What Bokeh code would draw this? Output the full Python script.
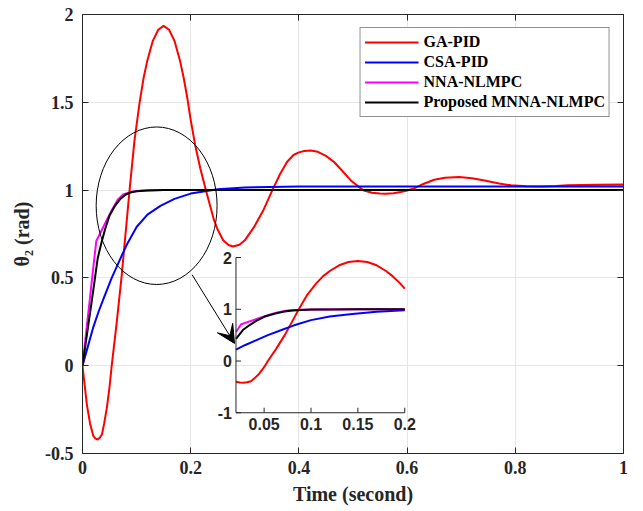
from bokeh.plotting import figure
from bokeh.models import Range1d, LinearAxis, Arrow, VeeHead, FixedTicker
from bokeh.embed import file_html
from bokeh.resources import INLINE
from bokeh.core.properties import value

# ---------------- data ----------------
t_ga = [0, 0.004, 0.008, 0.014, 0.02, 0.024, 0.028, 0.032, 0.036, 0.04, 0.045, 0.05, 0.054,
        0.063, 0.072, 0.081, 0.087, 0.096, 0.1056, 0.113, 0.12, 0.13, 0.14, 0.15, 0.16,
        0.17, 0.18, 0.187, 0.194, 0.2, 0.208, 0.218, 0.228, 0.243, 0.25, 0.26, 0.27, 0.278,
        0.29, 0.30, 0.317, 0.335, 0.351, 0.365, 0.378, 0.39, 0.40, 0.41, 0.422, 0.435,
        0.45, 0.465, 0.48, 0.496, 0.51, 0.52, 0.535, 0.55, 0.56, 0.575, 0.588, 0.6, 0.613,
        0.63, 0.65, 0.67, 0.696, 0.72, 0.743, 0.77, 0.792, 0.82, 0.848, 0.875, 0.897,
        0.95, 1.0]
y_ga = [0, -0.11, -0.22, -0.33, -0.40, -0.415, -0.42, -0.41, -0.39, -0.33, -0.24, -0.12, 0.0,
        0.24, 0.5, 0.8, 1.0, 1.28, 1.5, 1.64, 1.74, 1.85, 1.913, 1.935, 1.913,
        1.85, 1.74, 1.64, 1.52, 1.40, 1.26, 1.12, 1.0, 0.83, 0.774, 0.714, 0.687, 0.679,
        0.689, 0.714, 0.789, 0.89, 1.0, 1.09, 1.16, 1.20, 1.215, 1.223, 1.226, 1.218,
        1.195, 1.16, 1.11, 1.055, 1.02, 0.998, 0.985, 0.98, 0.979, 0.982, 0.989, 0.998, 1.01,
        1.035, 1.059, 1.07, 1.074, 1.068, 1.055, 1.038, 1.027, 1.022, 1.021, 1.023, 1.027,
        1.03, 1.032]

t_csa = [0, 0.01, 0.02, 0.03, 0.04, 0.054, 0.07, 0.082, 0.1, 0.12, 0.144, 0.17, 0.2,
         0.25, 0.3, 0.4, 0.5, 1.0]
y_csa = [0, 0.11, 0.22, 0.31, 0.39, 0.5, 0.61, 0.69, 0.79, 0.86, 0.91, 0.95, 0.98,
         1.005, 1.015, 1.02, 1.02, 1.02]

t_nna = [0, 0.02, 0.0255, 0.054, 0.065, 0.075, 0.09, 0.11, 0.15, 0.2, 0.3, 1.0]
y_nna = [0, 0.56, 0.71, 0.885, 0.945, 0.975, 0.99, 0.998, 1.0, 1.0, 1.0, 1.0]

t_mnna = [0, 0.02, 0.028, 0.035, 0.042, 0.05, 0.06, 0.07, 0.08, 0.09, 0.1, 0.12, 0.15,
          0.2, 0.3, 1.0]
y_mnna = [0, 0.43, 0.61, 0.70, 0.78, 0.855, 0.91, 0.95, 0.975, 0.988, 0.994, 0.998, 1.0,
          1.0, 1.0, 1.0]

series_names = ["GA-PID", "CSA-PID", "NNA-NLMPC", "Proposed MNNA-NLMPC"]
series_colors = ["#ff0000", "#0000ff", "#ff00ff", "#000000"]

x_ticks = [0, 0.2, 0.4, 0.6, 0.8, 1]
y_ticks = [-0.5, 0, 0.5, 1, 1.5, 2]
x_tick_labels = {0: "0", 0.2: "0.2", 0.4: "0.4", 0.6: "0.6", 0.8: "0.8", 1: "1"}
y_tick_labels = {-0.5: "-0.5", 0: "0", 0.5: "0.5", 1: "1", 1.5: "1.5", 2: "2"}

inset_x_range = (0.02, 0.2)
inset_y_range = (-1, 2)
inset_x_ticks = [0.05, 0.1, 0.15, 0.2]
inset_x_labels = ["0.05", "0.1", "0.15", "0.2"]
inset_y_ticks = [-1, 0, 1, 2]
inset_y_labels = ["-1", "0", "1", "2"]

# ---------------- figure ----------------
AX = "#262626"
SERIF = "Liberation Serif"
SANS = "Liberation Sans"

p = figure(frame_width=541, frame_height=439, output_backend="svg", toolbar_location=None,
           x_range=Range1d(0, 1), y_range=Range1d(-0.5, 2),
           min_border_left=82, min_border_top=14, min_border_right=12, min_border_bottom=50)
p.background_fill_color = "white"
p.border_fill_color = "white"
p.outline_line_color = AX
p.outline_line_width = 1

for ax in (p.xaxis[0], p.yaxis[0]):
    ax.axis_line_color = AX
    ax.major_tick_line_color = AX
    ax.major_tick_in = 6
    ax.major_tick_out = 0
    ax.minor_tick_line_color = None
    ax.major_label_text_font = SERIF
    ax.major_label_text_font_style = "bold"
    ax.major_label_text_font_size = "18px"
    ax.major_label_text_color = AX
    ax.axis_label_text_font = SERIF
    ax.axis_label_text_font_style = "bold"
    ax.axis_label_text_font_size = "20px"
    ax.axis_label_text_color = AX
p.xaxis.ticker = FixedTicker(ticks=x_ticks)
p.yaxis.ticker = FixedTicker(ticks=y_ticks)
p.xaxis.major_label_overrides = x_tick_labels
p.yaxis.major_label_overrides = y_tick_labels
p.xaxis.axis_label = "Time (second)"
p.yaxis.axis_label = "θ₂ (rad)"
p.xaxis.major_label_standoff = 7
p.yaxis.major_label_standoff = 9
p.xaxis.axis_label_standoff = 6
p.yaxis.axis_label_standoff = 9

for loc, ticks in (("right", y_ticks), ("above", x_ticks)):
    ax = LinearAxis(ticker=FixedTicker(ticks=ticks), major_tick_in=6, major_tick_out=0,
                    minor_tick_line_color=None, axis_line_color=AX, major_tick_line_color=AX,
                    major_label_text_font_size="0px", major_label_standoff=0,
                    major_label_overrides={v: "" for v in ticks})
    p.add_layout(ax, loc)

p.xgrid.ticker = FixedTicker(ticks=x_ticks)
p.ygrid.ticker = FixedTicker(ticks=y_ticks)
p.grid.grid_line_color = "#e6e6e6"
p.grid.grid_line_width = 1

series = [(t_ga, y_ga), (t_csa, y_csa), (t_nna, y_nna), (t_mnna, y_mnna)]
for (tx, ty), name, col in zip(series, series_names, series_colors):
    p.line(tx, ty, line_color=col, line_width=2, legend_label=name)

# ellipse + arrow annotation
p.ellipse(x=[0.137], y=[0.911], width=[0.2235], height=[0.897],
          fill_color=None, line_color="black", line_width=1)
p.add_layout(Arrow(end=VeeHead(size=18, fill_color="black", line_color="black", line_width=1),
                   x_start=0.2026, y_start=0.518, x_end=0.281, y_end=0.127,
                   line_color="black", line_width=1))

# ---------------- inset ----------------
ins = p.subplot(x_source=Range1d(*inset_x_range), y_source=Range1d(*inset_y_range),
                x_target=Range1d(0.2837, 0.5957), y_target=Range1d(-0.268, 0.616))

for (tx, ty), col in zip(series, series_colors):
    xs = [a for a in tx if inset_x_range[0] <= a <= inset_x_range[1]]
    ys = [b for a, b in zip(tx, ty) if inset_x_range[0] <= a <= inset_x_range[1]]
    ins.line(xs, ys, line_color=col, line_width=2)

x0, x1 = inset_x_range
y0, y1 = inset_y_range
ins.segment(x0=[x0, x0], y0=[y0, y0], x1=[x1, x0], y1=[y0, y1], line_color=AX, line_width=1)
tick_dy = (y1 - y0) * 5 / 155.0
tick_dx = (x1 - x0) * 5 / 169.0
ins.segment(x0=inset_x_ticks, y0=[y0] * len(inset_x_ticks), x1=inset_x_ticks,
            y1=[y0 + tick_dy] * len(inset_x_ticks), line_color=AX, line_width=1)
ins.segment(x0=[x0] * len(inset_y_ticks), y0=inset_y_ticks, x1=[x0 + tick_dx] * len(inset_y_ticks),
            y1=inset_y_ticks, line_color=AX, line_width=1)
ins.text(x=inset_x_ticks, y=[y0] * len(inset_x_ticks), text=inset_x_labels,
         text_align="center", text_baseline="top", y_offset=5,
         text_font=value(SANS), text_font_size=value("16px"), text_font_style="bold",
         text_color=AX)
ins.text(x=[x0] * len(inset_y_ticks), y=inset_y_ticks, text=inset_y_labels,
         text_align="right", text_baseline="middle", x_offset=-4,
         text_font=value(SANS), text_font_size=value("16px"), text_font_style="bold",
         text_color=AX)

# ---------------- legend ----------------
lg = p.legend[0]
lg.location = "top_right"
lg.margin = 13
lg.border_line_color = AX
lg.border_line_width = 1
lg.background_fill_color = "white"
lg.background_fill_alpha = 1
lg.label_text_font = SERIF
lg.label_text_font_style = "bold"
lg.label_text_font_size = "16px"
lg.label_text_color = "black"
lg.glyph_width = 54
lg.glyph_height = 20
lg.label_height = 20
lg.spacing = 0
lg.padding = 4
lg.label_standoff = 5

open("out.html", "w").write(file_html(p, INLINE))
